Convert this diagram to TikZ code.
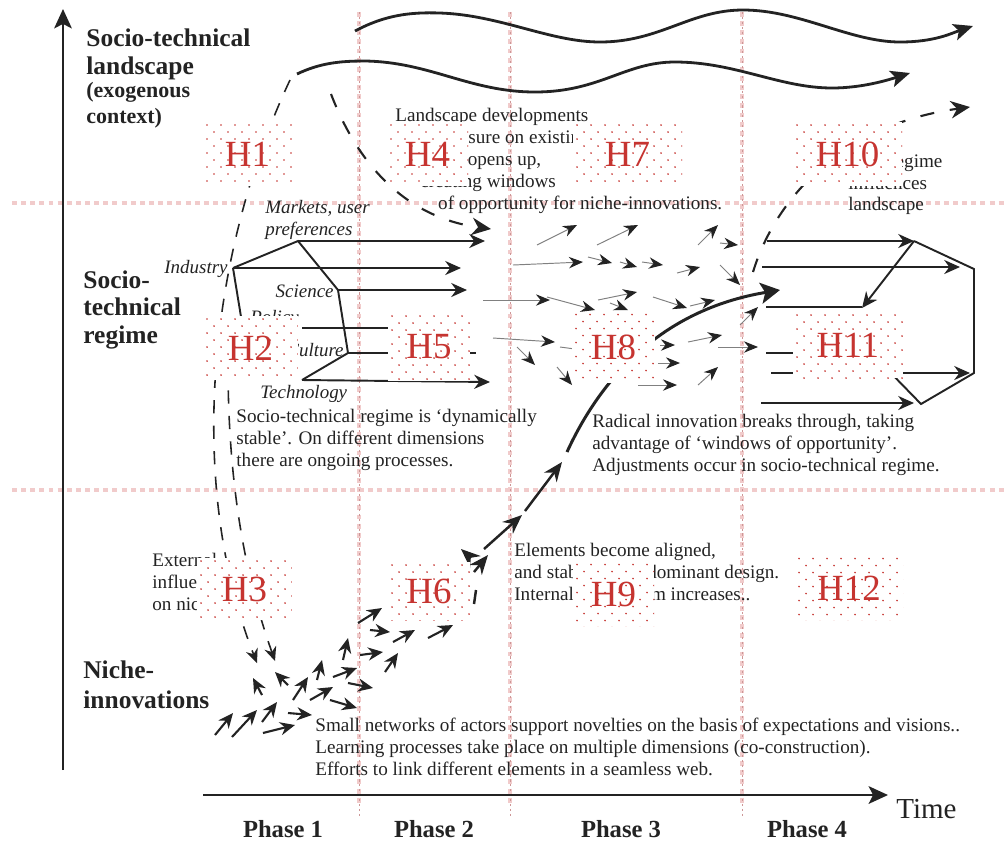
\documentclass[tikz,border=0pt]{standalone}
\usepackage{fontspec}
\setmainfont{Liberation Serif}
\usepackage{tikz}
\usetikzlibrary{arrows.meta}
\definecolor{hred}{RGB}{198,52,48}
\definecolor{gridpink}{RGB}{241,203,203}
\definecolor{gridink}{RGB}{205,150,150}
\definecolor{ink}{RGB}{35,35,35}

\begin{document}
\begin{tikzpicture}[
  x=0.02cm, y=-0.02cm,
  axis/.style={ink, line width=1.4pt, -{Stealth[length=11pt, width=10pt, inset=2.5pt]}},
  wave/.style={ink, line width=1.6pt, -{Stealth[length=11pt, width=9.5pt, inset=2.5pt]}},
  dashlink/.style={ink, line width=0.9pt, dash pattern=on 7.5pt off 7pt, -{Stealth[length=8pt, width=7pt]}},
  bigdash/.style={ink, line width=1.2pt, dash pattern=on 8pt off 9pt, -{Stealth[length=11pt, width=10pt]}},
  reg/.style={ink, line width=1.1pt},
  regarrow/.style={reg, -{Stealth[length=9pt, width=8pt]}},
  thinarrow/.style={black!50, line width=0.55pt, -{Stealth[length=8pt, width=6.5pt, color=ink]}},
  niche/.style={ink, line width=1.2pt, -{Stealth[length=8.5pt, width=7.5pt]}},
  chain/.style={ink, line width=1.4pt, -{Stealth[length=11pt, width=9pt]}},
  gridband/.style={gridpink, line width=2.8pt, dash pattern=on 2.8pt off 2.4pt},
  gridtick/.style={gridink, line width=0.4pt, dash pattern=on 1.2pt off 1.6pt},
  txt/.style={font=\fontsize{10.9}{12.5}\selectfont, text=ink, align=left, inner sep=0pt, anchor=north west},
  lab/.style={font=\fontsize{10.8}{12.5}\selectfont\itshape, text=ink, inner sep=0pt},
  title/.style={font=\fontsize{14.5}{16.3}\selectfont\bfseries, text=ink, align=left, inner sep=0pt, anchor=north west},
  phase/.style={font=\fontsize{14}{16}\selectfont\bfseries, text=ink, inner sep=0pt, anchor=base},
  hbox/.style={fill=white, inner sep=0pt, text=hred, font=\fontsize{21}{21}\selectfont,
    path picture={
      \foreach \hr in {0,...,10}
        \foreach \hc in {0,...,8}
          \fill[hred] ([shift={({4+\hc*14+mod(\hr,2)*7},{3+\hr*7})}]path picture bounding box.north west) circle (0.55pt);
    }}
]
  \useasboundingbox (0,0) rectangle (1006,843);

  % Phase and level grid (pink)
  \draw[gridband] (12,203) -- (1006,203);
  \draw[gridband] (12,490) -- (1006,490);
  \draw[gridband] (359,12) -- (359,805);
  \draw[gridband] (510,12) -- (510,805);
  \draw[gridband] (742,12) -- (742,805);
  \draw[gridtick] (359,12) -- (359,818);
  \draw[gridtick] (510,12) -- (510,818);
  \draw[gridtick] (742,12) -- (742,818);

  % Axes
  \draw[axis] (63,770) -- (63,9);
  \draw[axis] (203,795) -- (888,795);
  \node[font=\fontsize{16.5}{16.5}\selectfont, text=ink, inner sep=0pt, anchor=base west] (time) at (896,818) {Time};
  \node[phase] (ph1) at (283,837) {Phase 1};
  \node[phase] (ph2) at (434,837) {Phase 2};
  \node[phase] (ph3) at (621,837) {Phase 3};
  \node[phase] (ph4) at (807,837) {Phase 4};

  % Level titles
  \node[title] (landtitle) at (86,28) {Socio-technical\\landscape};
  \node[title, font=\fontsize{12.5}{14.7}\selectfont\bfseries] (exotitle) at (86,82) {(exogenous\\context)};
  \node[title, font=\fontsize{14.5}{15.9}\selectfont\bfseries] (regtitle) at (83,270) {Socio-\\technical\\regime};
  \node[title, font=\fontsize{14.5}{17.6}\selectfont\bfseries] (nichetitle) at (83,660) {Niche-\\innovations};

  % Landscape waves
  \draw[wave] (355,31) .. controls (385,15) and (410,12) .. (440,13)
    .. controls (500,15) and (550,42) .. (600,42)
    .. controls (660,42) and (690,10) .. (743,10)
    .. controls (800,10) and (850,42) .. (900,42)
    .. controls (935,42) and (952,33) .. (973,26);
  \draw[wave] (297,74) .. controls (320,63) and (340,61) .. (365,61)
    .. controls (430,62) and (470,92) .. (535,92)
    .. controls (600,92) and (625,62) .. (675,62)
    .. controls (735,62) and (780,88) .. (832,88)
    .. controls (862,88) and (888,80) .. (910,73);

  % Dashed influences between levels
  \draw[dashlink] (290,80) .. controls (210,250) and (185,480) .. (257,663);
  \draw[dashlink] (228,365) .. controls (228,500) and (250,590) .. (275,661);
  \draw[bigdash] (331,94) .. controls (360,170) and (410,218) .. (491,229);
  \draw[bigdash] (753,272) .. controls (775,200) and (840,125) .. (970,107);

  % Regime of phases 1-2
  \coordinate (mkt) at (298,241);
  \coordinate (ind) at (233,268);
  \coordinate (sci) at (338,290);
  \coordinate (pol) at (244,335);
  \coordinate (cul) at (348,353);
  \coordinate (tec) at (302,380);
  \draw[reg] (ind) -- (mkt) -- (sci) -- (cul) -- (tec);
  \draw[reg] (ind) -- (pol);
  \draw[regarrow] (mkt) -- (485,241);
  \draw[regarrow] (ind) -- (461,268);
  \draw[regarrow] (sci) -- (467,290);
  \draw[reg] (302,328) -- (468,328);
  \draw[reg] (cul) -- (476,353);
  \draw[regarrow] (tec) -- (490,382);
  \node[lab, anchor=west, align=left] (mktl) at (265,220) {Markets, user\\preferences};
  \node[lab, anchor=east] (indl) at (228,269) {Industry};
  \node[lab, anchor=east] (scil) at (334,291) {Science};
  \node[lab, anchor=west] (poll) at (250,319) {Policy};
  \node[lab, anchor=east] (cull) at (344,350) {Culture};
  \node[lab, anchor=west] (tecl) at (260,394) {Technology};

  % Phase 3: loose regime dynamics
  \draw[thinarrow] (537,245) -- (577,225);
  \draw[thinarrow] (597,245) -- (638,225);
  \draw[thinarrow] (698,245) -- (718,225);
  \draw[thinarrow] (720,243) -- (738,245);
  \draw[thinarrow] (513,265) -- (583,262);
  \draw[thinarrow] (588,257) -- (612,263);
  \draw[thinarrow] (620,262) -- (637,267);
  \draw[thinarrow] (642,262) -- (663,265);
  \draw[thinarrow] (677,273) -- (700,267);
  \draw[thinarrow] (720,265) -- (740,285);
  \draw[thinarrow] (483,300) -- (550,300);
  \draw[thinarrow] (547,297) -- (595,310);
  \draw[thinarrow] (598,300) -- (637,292);
  \draw[thinarrow] (610,303) -- (628,310);
  \draw[thinarrow] (653,297) -- (687,308);
  \draw[thinarrow] (690,306) -- (715,300);
  \draw[thinarrow] (740,325) -- (758,307);
  \draw[thinarrow] (493,338) -- (555,342);
  \draw[thinarrow] (517,347) -- (535,365);
  \draw[black!50, line width=0.55pt] (560,347) -- (575,349);
  \draw[thinarrow] (557,367) -- (572,385);
  \draw[thinarrow] (660,345) -- (675,345);
  \draw[thinarrow] (688,342) -- (722,335);
  \draw[thinarrow] (718,347) -- (758,347);
  \draw[thinarrow] (658,363) -- (680,363);
  \draw[thinarrow] (638,385) -- (677,385);
  \draw[thinarrow] (698,385) -- (718,367);

  % Phase 4: new regime
  \coordinate (mkt2) at (914,241);
  \coordinate (b2) at (974,269);
  \coordinate (c2) at (974,373);
  \coordinate (d2) at (921,404);
  \coordinate (e2) at (884,366);
  \draw[reg] (mkt2) -- (b2) -- (c2) -- (d2) -- (e2);
  \draw[regarrow] (767,241) -- (mkt2);
  \draw[regarrow] (762,267) -- (960,267);
  \draw[regarrow] (mkt2) -- (862,308);
  \draw[reg] (766,307) -- (862,307);
  \draw[reg] (766,353) -- (840,353);
  \draw[regarrow] (771,373) -- (970,373);
  \draw[regarrow] (761,403) -- (914,403);

  % Niche-innovations
  \draw[niche] (215,735) -- (233,713);
  \draw[niche] (232,737) -- (257,710);
  \draw[niche] (262,722) -- (277,702);
  \draw[niche] (263,733) -- (295,725);
  \draw[niche] (288,713) -- (312,715);
  \draw[niche] (293,700) -- (308,677);
  \draw[niche] (262,695) -- (253,678);
  \draw[niche] (288,685) -- (275,672);
  \draw[niche] (310,700) -- (333,687);
  \draw[niche] (317,680) -- (322,660);
  \draw[niche] (330,700) -- (357,708);
  \draw[niche] (333,677) -- (357,668);
  \draw[niche] (343,660) -- (348,638);
  \draw[niche] (348,683) -- (373,688);
  \draw[niche] (360,655) -- (383,652);
  \draw[niche] (358,623) -- (382,608);
  \draw[niche] (370,630) -- (390,632);
  \draw[niche] (385,672) -- (398,653);
  \draw[niche] (393,642) -- (415,630);
  \draw[niche] (428,638) -- (453,625);

  % Breakthrough path
  \draw[ink, line width=1.4pt] (474,604) -- (476,590);
  \draw[chain] (474,572) -- (488,555);
  \draw[chain] (471,558) -- (461,549);
  \draw[chain] (484,549) -- (522,515);
  \draw[chain] (525,511) -- (562,462);
  \draw[ink, line width=1.7pt, -{Stealth[length=11pt, width=12pt, inset=2.5pt]}]
    (567,452) .. controls (600,380) and (660,310) .. (780,290);

  % Texts
  \node[txt] (landtxt) at (395,108) {Landscape developments\\
    \hspace*{6.8pt}put pressure on existing regime,\\
    \hspace*{11.9pt}which opens up,\\
    \hspace*{14.2pt}creating windows\\
    \hspace*{24.4pt}of opportunity for niche-innovations.};
  \node[txt] (newtxt) at (848,154) {New regime\\influences\\landscape};
  \node[txt] (regtxt) at (236,409) {Socio-technical regime is `dynamically\\stable'. On different dimensions\\there are ongoing processes.};
  \node[txt] (radtxt) at (592,414) {Radical innovation breaks through, taking\\advantage of `windows of opportunity'.\\Adjustments occur in socio-technical regime.};
  \node[txt] (exttxt) at (152,553) {External\\influences\\on niches};
  \node[txt] (elemtxt) at (514,543) {Elements become aligned,\\and stabilise in a dominant design.\\Internal momentum increases..};
  \node[txt] (smalltxt) at (315,718) {Small networks of actors support novelties on the basis of expectations and visions..\\Learning processes take place on multiple dimensions (co-construction).\\Efforts to link different elements in a seamless web.};

  % Hypothesis boxes
  \node[hbox, minimum width=1.78cm, minimum height=1.28cm] (h1) at (247.5,154) {H1};
  \node[hbox, minimum width=1.62cm, minimum height=1.28cm] (h4) at (427.5,154) {H4};
  \node[hbox, minimum width=2.18cm, minimum height=1.28cm] (h7) at (627.5,154) {H7};
  \node[hbox, minimum width=2.18cm, minimum height=1.28cm] (h10) at (847.5,154) {H10};
  \node[hbox, minimum width=1.90cm, minimum height=1.28cm] (h2) at (250.5,348) {H2};
  \node[hbox, minimum width=1.64cm, minimum height=1.36cm] (h5) at (429,347) {H5};
  \node[hbox, minimum width=1.66cm, minimum height=1.42cm] (h8) at (613.5,347) {H8};
  \node[hbox, minimum width=2.20cm, minimum height=1.32cm] (h11) at (848,345) {H11};
  \node[hbox, minimum width=1.90cm, minimum height=1.24cm] (h3) at (244.5,589) {H3};
  \node[hbox, minimum width=1.64cm, minimum height=1.16cm] (h6) at (429,591) {H6};
  \node[hbox, minimum width=1.62cm, minimum height=1.30cm] (h9) at (613.5,594) {H9};
  \node[hbox, minimum width=2.16cm, minimum height=1.30cm] (h12) at (849,588) {H12};
\end{tikzpicture}
\end{document}
